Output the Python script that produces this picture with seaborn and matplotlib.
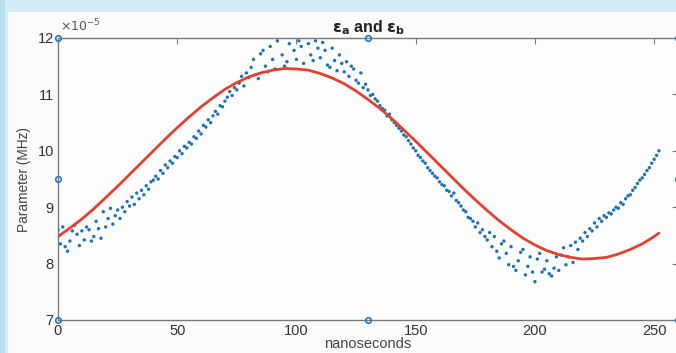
import numpy as np
import pandas as pd
import matplotlib
matplotlib.use("Agg")
import matplotlib.pyplot as plt
from matplotlib.patches import Rectangle
import seaborn as sns

# ---- data (values in units of 1e-5) ----
measured_values = [
    8.60, 8.35, 8.65, 8.30, 8.22, 8.40, 8.58, 8.68, 8.52, 8.32,
    8.58, 8.42, 8.65, 8.60, 8.40, 8.48, 8.75, 8.62, 8.45, 8.92,
    8.65, 8.80, 8.98, 8.70, 8.85, 8.95, 8.80, 9.00, 8.92, 9.10,
    9.02, 9.18, 9.05, 9.25, 9.15, 9.30, 9.22, 9.38, 9.32, 9.45,
    9.48, 9.55, 9.50, 9.65, 9.60, 9.75, 9.70, 9.82, 9.78, 9.90,
    9.88, 10.00, 9.95, 10.08, 10.05, 10.15, 10.12, 10.25, 10.22, 10.35,
    10.30, 10.45, 10.42, 10.55, 10.50, 10.62, 10.70, 10.65, 10.80, 10.78,
    10.88, 10.95, 11.05, 10.98, 11.12, 11.08, 11.20, 11.32, 11.15, 11.38,
    11.30, 11.48, 11.62, 11.35, 11.28, 11.72, 11.78, 11.50, 11.40, 11.85,
    11.62, 11.45, 11.95, 12.02, 11.70, 11.50, 11.58, 11.90, 12.05, 11.78,
    11.62, 11.95, 11.85, 11.55, 12.02, 11.90, 11.70, 11.60, 11.95, 11.82,
    11.65, 11.92, 11.78, 11.52, 11.48, 11.82, 11.60, 11.42, 11.70, 11.55,
    11.40, 11.58, 11.32, 11.50, 11.45, 11.25, 11.20, 11.38, 11.12, 11.18,
    11.08, 10.98, 11.00, 10.92, 10.88, 10.80, 10.75, 10.72, 10.62, 10.65,
    10.55, 10.50, 10.45, 10.40, 10.35, 10.28, 10.25, 10.18, 10.12, 10.05,
    10.00, 9.92, 9.88, 9.82, 9.78, 9.70, 9.65, 9.60, 9.55, 9.52,
    9.45, 9.40, 9.38, 9.30, 9.28, 9.20, 9.25, 9.12, 9.08, 9.02,
    8.95, 8.92, 8.82, 8.80, 8.75, 8.65, 8.72, 8.55, 8.60, 8.48,
    8.42, 8.55, 8.30, 8.48, 8.22, 8.10, 8.35, 8.40, 8.18, 7.98,
    8.30, 7.95, 7.88, 8.05, 8.20, 8.25, 7.80, 7.95, 8.12, 7.85,
    7.68, 8.08, 8.18, 7.85, 7.90, 8.05, 7.82, 7.78, 7.92, 8.12,
    7.88, 8.15, 8.28, 7.98, 8.12, 8.32, 8.02, 8.38, 8.25, 8.45,
    8.40, 8.55, 8.48, 8.62, 8.58, 8.72, 8.65, 8.80, 8.75, 8.85,
    8.82, 8.90, 8.88, 8.95, 9.00, 8.98, 9.08, 9.05, 9.15, 9.20,
    9.22, 9.30, 9.35, 9.42, 9.48, 9.52, 9.58, 9.65, 9.70, 9.78,
    9.85, 9.92, 10.00,
]
measured_ns = list(range(len(measured_values)))

fit_ns = [0, 5, 10, 15, 20, 25, 30, 35, 40, 45, 50, 55, 60, 65, 70, 75,
          80, 85, 90, 95, 100, 105, 110, 115, 120, 125, 130, 135, 140, 145,
          150, 155, 160, 165, 170, 175, 180, 185, 190, 195, 200, 205, 210,
          215, 220, 225, 230, 235, 240, 245, 250, 252]
fit_values = [8.48, 8.63, 8.79, 8.97, 9.17, 9.37, 9.58, 9.79, 10.00, 10.21,
              10.41, 10.60, 10.78, 10.94, 11.09, 11.21, 11.31, 11.38, 11.43,
              11.46, 11.45, 11.43, 11.37, 11.29, 11.19, 11.06, 10.91, 10.75,
              10.57, 10.37, 10.17, 9.96, 9.75, 9.54, 9.33, 9.13, 8.94, 8.76,
              8.60, 8.45, 8.33, 8.23, 8.16, 8.11, 8.08, 8.09, 8.11, 8.17,
              8.25, 8.35, 8.48, 8.54]

handle_x = [0, 130, 260, 0, 260, 0, 130, 260]
handle_y = [12, 12, 12, 9.5, 9.5, 7, 7, 7]

x_ticks = [0, 50, 100, 150, 200, 250]
y_ticks = [7, 8, 9, 10, 11, 12]
title_text = r"$\mathbf{\epsilon_a}$ and $\mathbf{\epsilon_b}$"
exponent_text = r"$\times10^{-5}$"
x_label = "nanoseconds"
y_label = "Parameter (MHz)"

meas = pd.DataFrame({"ns": measured_ns, "val": measured_values})
fit = pd.DataFrame({"ns": fit_ns, "val": fit_values})

# ---- style ----
sns.set_style("white")
plt.rcParams["font.family"] = ["Liberation Sans", "DejaVu Sans"]
plt.rcParams["mathtext.fontset"] = "dejavusans"

W, H = 676, 353
fig = plt.figure(figsize=(W / 100, H / 100), dpi=100)
fig.patch.set_facecolor("#d3ecf6")
fig.patches.append(Rectangle((8 / W, 0), 1, (H - 12) / H, transform=fig.transFigure,
                             facecolor="#fafbfa", edgecolor="none", zorder=-10))
fig.patches.append(Rectangle((0, 0), 5 / W, 1, transform=fig.transFigure,
                             facecolor="#b9def2", edgecolor="none", zorder=-10))

ax = fig.add_axes([58 / W, 33 / H, 620 / W, 282 / H])
ax.set_zorder(1)
ax.set_facecolor("#fcfdfc")

blue = "#1f72b8"
red = "#e2412f"
gray = "#7a7a7a"

sns.scatterplot(data=meas, x="ns", y="val", ax=ax, color=blue, s=6,
                edgecolor="none", zorder=3, legend=False)
sns.lineplot(data=fit, x="ns", y="val", ax=ax, color=red, linewidth=2.0,
             zorder=4, legend=False)

ax.plot(handle_x, handle_y, linestyle="none",
        marker="o", markersize=4, markerfacecolor="none", markeredgecolor="#2a7ab8",
        markeredgewidth=1.2, clip_on=False, zorder=6)

ax.set_xlim(0, 260)
ax.set_ylim(7, 12)
ax.set_xticks(x_ticks)
ax.set_yticks(y_ticks)

ax.tick_params(axis="both", direction="in", length=4, width=0.8, color=gray,
               labelsize=10.5, labelcolor="#333333", top=True, right=True, pad=3)
for sp in ax.spines.values():
    sp.set_color(gray)
    sp.set_linewidth(1.0)
    sp.set_visible(True)

ax.text(0.003, 1.012, exponent_text, transform=ax.transAxes, ha="left", va="bottom",
        fontsize=9, color="#555555")

ax.set_title(title_text, fontsize=11.5, fontweight="bold", color="#222222", pad=4)
ax.set_xlabel(x_label, fontsize=10.5, color="#444444", labelpad=-1)
ax.set_ylabel(y_label, fontsize=9.8, color="#444444", labelpad=5)

fig.savefig("out.png", dpi=100, facecolor=fig.get_facecolor())
